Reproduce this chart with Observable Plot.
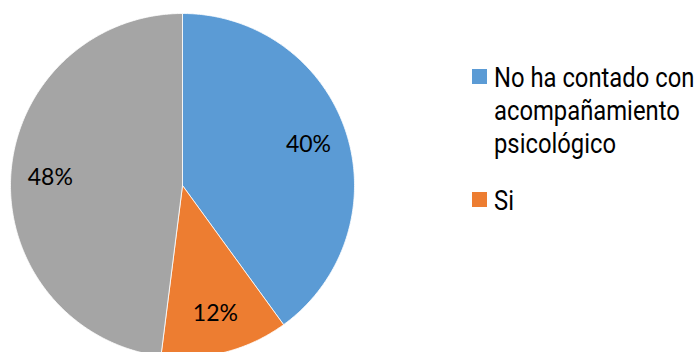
<!DOCTYPE html>
<html>
<head>
<meta charset="utf-8">
<script src="https://cdn.jsdelivr.net/npm/d3@7"></script>
<script src="https://cdn.jsdelivr.net/npm/@observablehq/plot@0.6"></script>
<style>
  html, body { margin: 0; padding: 0; background: #fff; overflow: hidden; width: 696px; height: 352px; }
  #wrap { position: relative; width: 696px; height: 352px; }
  #legend { position: absolute; left: 472px; top: 61px; font-family: Roboto, "Liberation Sans", sans-serif; font-size: 28px; color: #000; line-height: 33px; }
  .item { display: flex; align-items: flex-start; margin-bottom: 24px; }
  .sw { width: 15px; height: 15px; flex: none; margin-top: 8px; margin-right: 7px; }
  .txt { width: 250px; transform: scaleX(0.85); transform-origin: 0 0; }
</style>
</head>
<body>
<div id="wrap"><div id="chart"></div><div id="legend"></div></div>
<script>
const categories = ["No ha contado con acompañamiento psicológico", "Si", "No"];
const values = [40, 12, 48];
const labels = ["40%", "12%", "48%"];
const colors = ["#5B9BD5", "#ED7D31", "#A5A5A5"];
const legendCategories = ["No ha contado con acompañamiento psicológico", "Si"];

const pie = d3.pie().sort(null).value(d => d.value)(categories.map((c, i) => ({category: c, value: values[i], label: labels[i]})));
const slicePts = [];
pie.forEach(p => {
  const n = Math.max(2, Math.ceil((p.endAngle - p.startAngle) / 0.01));
  slicePts.push({category: p.data.category, x: 0, y: 0});
  for (let k = 0; k <= n; k++) {
    const a = p.startAngle + (p.endAngle - p.startAngle) * k / n;
    slicePts.push({category: p.data.category, x: Math.sin(a), y: Math.cos(a)});
  }
  slicePts.push({category: p.data.category, x: 0, y: 0});
});
const labelR = 0.77;
const labelPts = pie.map(p => {
  const a = (p.startAngle + p.endAngle) / 2;
  return {label: p.data.label, x: labelR * Math.sin(a), y: labelR * Math.cos(a)};
});

const H = 370;
const chart = Plot.plot({
  width: 696,
  height: H,
  marginLeft: 10,
  marginRight: 696 - 354,
  marginTop: 13,
  marginBottom: H - 357,
  x: {domain: [-1, 1], axis: null},
  y: {domain: [-1, 1], axis: null},
  color: {domain: categories, range: colors},
  style: {background: "transparent", overflow: "visible"},
  marks: [
    Plot.line(slicePts, {x: "x", y: "y", z: "category", fill: "category", stroke: "white", strokeWidth: 0.8, curve: "linear"}),
    Plot.text(labelPts, {x: "x", y: "y", text: "label", fontSize: 23, fontFamily: "Lato, 'Open Sans', sans-serif", fill: "#000", textAnchor: "middle"})
  ]
});
chart.style.display = "block";
document.getElementById("chart").appendChild(chart);

const lg = document.getElementById("legend");
legendCategories.forEach(c => {
  const i = categories.indexOf(c);
  const item = document.createElement("div");
  item.className = "item";
  const sw = document.createElement("div");
  sw.className = "sw";
  sw.style.background = colors[i];
  const t = document.createElement("div");
  t.className = "txt";
  t.textContent = c;
  item.appendChild(sw);
  item.appendChild(t);
  lg.appendChild(item);
});
</script>
</body>
</html>
